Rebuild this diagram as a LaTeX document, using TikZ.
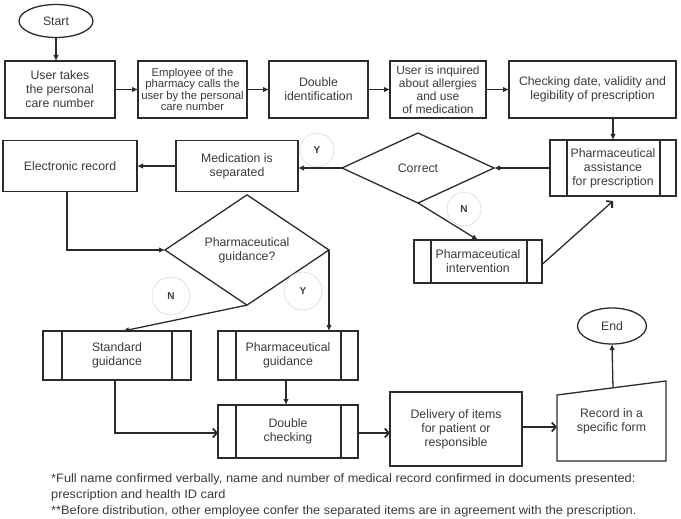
\documentclass[tikz,border=0pt]{standalone}
\usepackage{fontspec}
\setmainfont{Liberation Sans}
\newfontfamily\notefont[FakeStretch=1.05]{Liberation Sans}
\usetikzlibrary{shapes.geometric,arrows.meta,calc}
\definecolor{ln}{HTML}{2B2B2B}
\definecolor{tx}{HTML}{3A3A3A}
\definecolor{cg}{HTML}{D8D8D8}
\begin{document}
\begin{tikzpicture}[x=1pt,y=-1pt,
  every node/.style={text=tx, font=\fontsize{12.3}{14}\selectfont},
  box/.style={draw=ln, line width=1.3pt, rectangle, align=center, inner sep=1pt, outer sep=0pt},
  dia/.style={draw=ln, line width=1.3pt, diamond, align=center, inner sep=0pt, outer sep=0pt},
  term/.style={draw=ln, line width=1.3pt, ellipse, inner sep=0pt, outer sep=0pt},
  yn/.style={draw=cg, line width=0.6pt, circle, inner sep=0pt, font=\bfseries\fontsize{10}{12}\selectfont},
  fl/.style={draw=ln, line width=1.3pt, -{Latex[length=6pt,width=5.5pt]}},
  ob/.style={draw=ln, line width=1.3pt, -{Straight Barb[length=4pt,width=9pt,line width=1.8pt]}},
  sub/.style={draw=ln, line width=1.3pt},
  note/.style={anchor=base west, inner sep=0pt, font=\notefont\fontsize{12.2}{13}\selectfont}
]
\useasboundingbox (0,0) rectangle (681,519);

% row 1
\node[term, minimum width=74pt, minimum height=33pt] (start) at (56,21) {Start};
\node[box, minimum width=110pt, minimum height=57pt] (b1) at (60,89.5) {User takes\\the personal\\care number};
\node[box, minimum width=109pt, minimum height=57pt, font=\fontsize{11.3}{11.5}\selectfont] (b2) at (192.5,89.5) {Employee of the\\pharmacy calls the\\user by the personal\\care number};
\node[box, minimum width=99pt, minimum height=57pt] (b3) at (318.5,89.5) {Double\\identification};
\node[box, minimum width=96pt, minimum height=57pt, font=\fontsize{12}{13}\selectfont] (b4) at (438,89.5) {User is inquired\\about allergies\\and use\\of medication};
\node[box, minimum width=167pt, minimum height=57pt] (b5) at (592.5,89.5) {Checking date, validity and\\legibility of prescription};

% row 2
\node[box, minimum width=126pt, minimum height=56pt] (assist) at (613,168) {Pharmaceutical\\assistance\\for prescription};
\draw[sub] ([xshift=17pt]assist.north west) -- ([xshift=17pt]assist.south west);
\draw[sub] ([xshift=-16pt]assist.north east) -- ([xshift=-16pt]assist.south east);
\node[dia, minimum width=152pt, minimum height=70pt] (correct) at (418,168) {Correct};
\node[box, minimum width=122pt, minimum height=51pt] (medsep) at (237,166) {Medication is\\separated};
\node[box, minimum width=134pt, minimum height=51pt] (elec) at (70,166) {Electronic record};
\node[box, minimum width=128pt, minimum height=43pt] (interv) at (478,261.5) {Pharmaceutical\\intervention};
\draw[sub] ([xshift=17pt]interv.north west) -- ([xshift=17pt]interv.south west);
\draw[sub] ([xshift=-15pt]interv.north east) -- ([xshift=-15pt]interv.south east);
\node[yn, minimum size=34pt] (my1) at (317,150) {Y};
\node[yn, minimum size=34pt] (mn1) at (464,209) {N};

% row 3
\node[dia, minimum width=164pt, minimum height=90pt] (pg) at (247,250) {Pharmaceutical\\guidance?};
\node[yn, minimum size=38pt] (mn2) at (171,296) {N};
\node[yn, minimum size=38pt] (my2) at (303,291) {Y};
\node[box, minimum width=148pt, minimum height=49pt] (stdg) at (117,355.5) {Standard\\guidance};
\draw[sub] ([xshift=19pt]stdg.north west) -- ([xshift=19pt]stdg.south west);
\draw[sub] ([xshift=-19pt]stdg.north east) -- ([xshift=-19pt]stdg.south east);
\node[box, minimum width=140pt, minimum height=49pt] (phg) at (288,355.5) {Pharmaceutical\\guidance};
\draw[sub] ([xshift=18pt]phg.north west) -- ([xshift=18pt]phg.south west);
\draw[sub] ([xshift=-17pt]phg.north east) -- ([xshift=-17pt]phg.south east);

% row 4
\node[box, minimum width=140pt, minimum height=53pt] (dblc) at (288,431.5) {Double\\checking};
\draw[sub] ([xshift=18pt]dblc.north west) -- ([xshift=18pt]dblc.south west);
\draw[sub] ([xshift=-17pt]dblc.north east) -- ([xshift=-17pt]dblc.south east);
\node[box, minimum width=132pt, minimum height=74pt] (deliv) at (456,429) {Delivery of items\\for patient or\\responsible};
\node[align=center, inner sep=0pt, outer sep=0pt, minimum width=109pt, minimum height=80pt] (rec) at (611.5,421) {Record in a\\specific form};
\draw[sub] (rec.south west) -- (rec.south east) -- (rec.north east) -- ([yshift=-14pt]rec.north west) -- cycle;
\coordinate (rtop) at (613,388);
\node[term, minimum width=69pt, minimum height=36pt] (end) at (612,326) {End};

% connectors
\draw[fl] (start.south) -- (start.south |- b1.north);
\draw[fl] (b1.east) -- (b2.west);
\draw[fl] (b2.east) -- (b3.west);
\draw[fl] (b3.east) -- (b4.west);
\draw[fl] (b4.east) -- (b5.west);
\draw[fl] (assist.north |- b5.south) -- (assist.north);
\draw[fl] (assist.west) -- (correct.east);
\draw[fl] (correct.west) -- (correct.west -| medsep.east);
\draw[fl] (medsep.west |- elec.east) -- (elec.east);
\draw[fl] ([xshift=-3pt]elec.south) |- (pg.west);
\draw[fl] (correct.south) -- (interv.north);
\draw[ob] ([yshift=-3pt]interv.east) -- ([yshift=-5pt]assist.south);
\draw[fl] (pg.east) -- (pg.east |- phg.north);
\draw[fl] (pg.south) -- ([xshift=6pt]stdg.north);
\draw[fl] ([xshift=-2pt]phg.south) -- ([xshift=-2pt]dblc.north);
\draw[ob] ([xshift=-2pt]stdg.south) |- ([yshift=-1.5pt]dblc.west);
\draw[ob] ([yshift=-1.5pt]dblc.east) -- ([yshift=-1.5pt]dblc.east -| deliv.west);
\draw[ob] ([yshift=2pt]deliv.east) -- ([yshift=2pt]deliv.east -| rec.west);
\draw[fl] (rtop) -- (end.south);

% notes
\node[note] (n1) at (51,482) {*Full name confirmed verbally, name and number of medical record confirmed in documents presented:};
\node[note] (n2) at (51,498) {prescription and health ID card};
\node[note] (n3) at (51,514) {**Before distribution, other employee confer the separated items are in agreement with the prescription.};
\end{tikzpicture}
\end{document}
